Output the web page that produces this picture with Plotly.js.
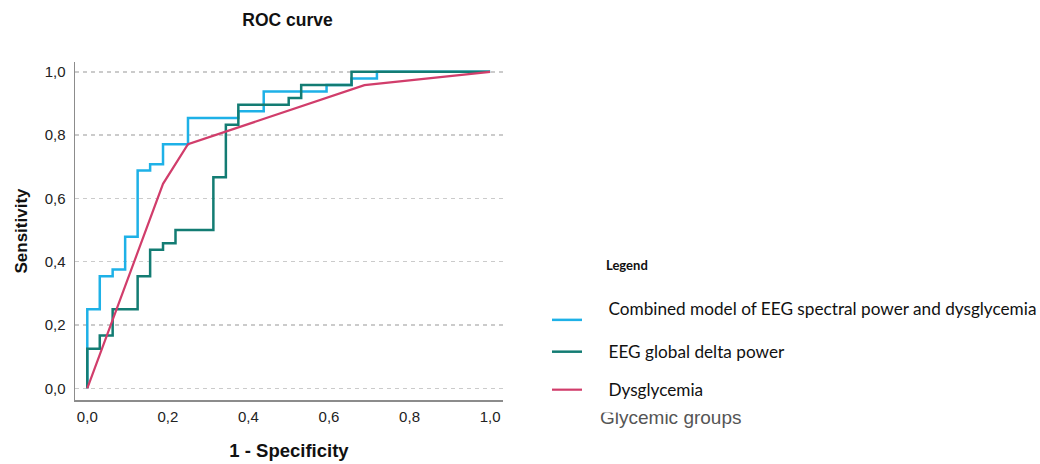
<!DOCTYPE html>
<html>
<head>
<meta charset="utf-8">
<script src="https://cdn.plot.ly/plotly-3.0.1.min.js"></script>
<style>html,body{margin:0;padding:0;background:#fff;}#chart{width:1040px;height:464px;}</style>
</head>
<body>
<div id="chart"></div>
<script>
// ---- Data ----
const seriesNames = [
  "Combined model of EEG spectral power and dysglycemia",
  "EEG global delta power",
  "Dysglycemia"
];
// Combined model: ROC coordinates (1 - specificity, sensitivity)
const combinedX = [0, 0, 0.031, 0.031, 0.063, 0.063, 0.094, 0.094, 0.125, 0.125, 0.156, 0.156, 0.188, 0.188, 0.25, 0.25, 0.375, 0.375, 0.438, 0.438, 0.594, 0.594, 0.656, 0.656, 0.719, 0.719, 1];
const combinedY = [0, 0.25, 0.25, 0.354, 0.354, 0.375, 0.375, 0.479, 0.479, 0.688, 0.688, 0.708, 0.708, 0.771, 0.771, 0.854, 0.854, 0.875, 0.875, 0.938, 0.938, 0.958, 0.958, 0.979, 0.979, 1, 1];
// EEG global delta power
const deltaX = [0, 0, 0.031, 0.031, 0.063, 0.063, 0.125, 0.125, 0.156, 0.156, 0.188, 0.188, 0.219, 0.219, 0.313, 0.313, 0.344, 0.344, 0.375, 0.375, 0.5, 0.5, 0.531, 0.531, 0.656, 0.656, 1];
const deltaY = [0, 0.125, 0.125, 0.167, 0.167, 0.25, 0.25, 0.354, 0.354, 0.438, 0.438, 0.458, 0.458, 0.5, 0.5, 0.667, 0.667, 0.833, 0.833, 0.896, 0.896, 0.917, 0.917, 0.958, 0.958, 1, 1];
// Dysglycemia
const dysX = [0, 0.188, 0.25, 0.688, 1];
const dysY = [0, 0.646, 0.771, 0.958, 1];

const tickVals = [0, 0.2, 0.4, 0.6, 0.8, 1.0];
const tickText = ["0,0", "0,2", "0,4", "0,6", "0,8", "1,0"];
const colors = ["#1eb1e7", "#137c73", "#d13d6b"];

// ---- Layout geometry (pixels) ----
const W = 1040, H = 464;
const L = 75, R = 503, T = 62, B = 400;
const px2x = p => (p - L) / (R - L);
const py2y = p => (B - p) / (B - T);

const legFont = {family: "Lato, 'Open Sans', sans-serif", size: 17.2, color: "#111"};
const axFont = "Arial, 'Liberation Sans', sans-serif";
const gap = "\u2003\u2002";

const traces = [
  {x: combinedX, y: combinedY, name: gap + seriesNames[0] + "<br> ", mode: "lines",
   line: {color: colors[0], width: 2.5, shape: "linear"}, legend: "legend"},
  {x: deltaX, y: deltaY, name: gap + seriesNames[1], mode: "lines",
   line: {color: colors[1], width: 2.5, shape: "linear"}, legend: "legend2"},
  {x: dysX, y: dysY, name: gap + seriesNames[2], mode: "lines",
   line: {color: colors[2], width: 2.2, shape: "linear"}, legend: "legend3"}
];

function legendAt(yPx) {
  return {x: px2x(547), y: py2y(yPx), xanchor: "left", yanchor: "middle",
          bgcolor: "rgba(0,0,0,0)", font: legFont, valign: "middle",
          itemwidth: 30, tracegroupgap: 0};
}

const layout = {
  width: W, height: H,
  margin: {l: L, r: W - R, t: T, b: H - B, pad: 0, autoexpand: false},
  paper_bgcolor: "#fff", plot_bgcolor: "#fff",
  separators: ",.",
  showlegend: true,
  title: {text: "<b>ROC curve</b>", x: 287.5 / W, xanchor: "center", xref: "container",
          y: 1 - 20 / H, yanchor: "middle", yref: "container",
          font: {family: axFont, size: 17.5, color: "#111"}},
  xaxis: {range: [-0.0305, 1.032], tickvals: tickVals, ticktext: tickText,
          showline: true, linecolor: "#8c8c8c", linewidth: 1.5, mirror: false,
          showgrid: false, zeroline: false, ticks: "", ticklabelstandoff: 2,
          tickfont: {family: axFont, size: 15, color: "#222"},
          title: {text: "<b>1 - Specificity</b>", standoff: 20,
                  font: {family: axFont, size: 18.5, color: "#111"}}},
  yaxis: {range: [-0.037, 1.031], tickvals: tickVals, ticktext: tickText,
          showline: true, linecolor: "#8c8c8c", linewidth: 1.5,
          showgrid: true, gridcolor: "#cbcbcb", gridwidth: 1.5, griddash: "4px,4px",
          zeroline: false, ticks: "", ticklabelstandoff: 5,
          tickfont: {family: axFont, size: 15, color: "#222"},
          title: {text: "<b>Sensitivity</b>", standoff: 12,
                  font: {family: axFont, size: 17, color: "#111"}}},
  legend: legendAt(320),
  legend2: legendAt(352),
  legend3: legendAt(390),
  annotations: [
    {text: "<b>Legend</b>", xref: "paper", yref: "paper", x: px2x(604), y: py2y(265),
     xanchor: "left", yanchor: "middle", showarrow: false,
     font: {family: "Lato, sans-serif", size: 13, color: "#111"}},
    {text: "Glycemic groups", xref: "paper", yref: "paper", x: px2x(598), y: py2y(417),
     xanchor: "left", yanchor: "middle", showarrow: false,
     font: {family: axFont, size: 19, color: "#555"}},
    {text: " ", xref: "paper", yref: "paper", x: px2x(590), y: py2y(403),
     xanchor: "left", yanchor: "top", showarrow: false, width: 170, height: 8,
     borderpad: 0, bgcolor: "#ffffff", font: {size: 4}}
  ]
};

Plotly.newPlot("chart", traces, layout, {displayModeBar: false, staticPlot: true});
</script>
</body>
</html>
